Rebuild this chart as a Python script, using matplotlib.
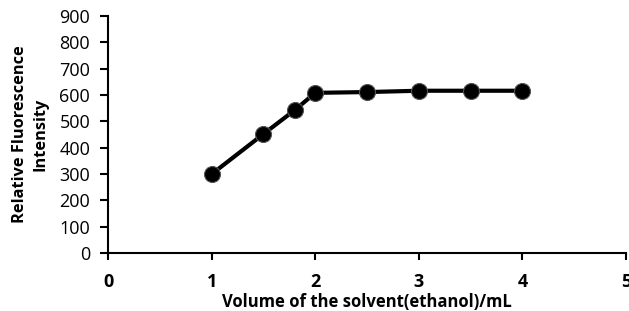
import matplotlib.pyplot as plt

# Data
volume = [1, 1.5, 1.8, 2, 2.5, 3, 3.5, 4]
intensity = [300, 452, 542, 608, 611, 616, 616, 616]

x_ticks = [0, 1, 2, 3, 4, 5]
y_ticks = [0, 100, 200, 300, 400, 500, 600, 700, 800, 900]

if __name__ == "__main__":
    plt.rcParams['font.family'] = ['Open Sans', 'DejaVu Sans']

    fig = plt.figure(figsize=(6.29, 3.11), dpi=100)
    ax = fig.add_axes([0.172, 0.186, 0.823, 0.763])

    ax.plot(volume, intensity, color='black', linewidth=3,
            marker='o', markersize=11.5, markerfacecolor='black',
            markeredgecolor='#555555', markeredgewidth=0.8)

    ax.set_xlim(0, 5)
    ax.set_ylim(0, 900)
    ax.set_xticks(x_ticks)
    ax.set_yticks(y_ticks)
    ax.set_xticklabels([str(t) for t in x_ticks], fontsize=13, fontweight='bold')
    ax.set_yticklabels([str(t) for t in y_ticks], fontsize=13)

    ax.spines['top'].set_visible(False)
    ax.spines['right'].set_visible(False)
    ax.spines['left'].set_linewidth(1.5)
    ax.spines['bottom'].set_linewidth(1.5)
    ax.tick_params(axis='x', direction='out', length=5, width=1.5, pad=9)
    ax.tick_params(axis='y', direction='out', length=6, width=1.5, pad=7)

    ax.set_xlabel('Volume of the solvent(ethanol)/mL', fontsize=12, fontweight='bold', labelpad=2)
    ax.set_ylabel('Relative Fluorescence\nIntensity', fontsize=11.8, fontweight='bold',
                  labelpad=8, linespacing=1.35)

    plt.savefig("out.png", dpi=100)
